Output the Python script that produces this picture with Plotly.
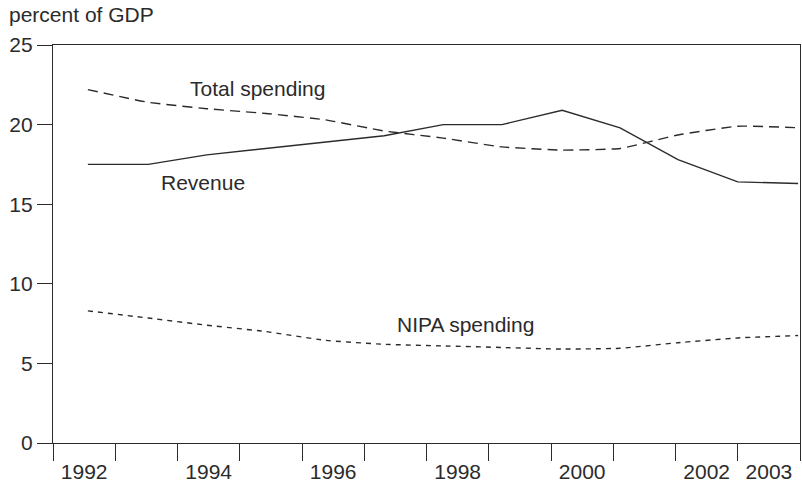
import plotly.graph_objects as go

# Data positions (fractional years, as plotted) and values, percent of GDP
x_pos = [1992.56, 1993.53, 1994.47, 1995.42, 1996.37, 1997.32, 1998.27,
         1999.21, 2000.18, 2001.11, 2002.04, 2003.00, 2003.97]
revenue = [17.5, 17.5, 18.1, 18.5, 18.9, 19.3, 20.0, 20.0, 20.9, 19.8, 17.8, 16.4, 16.3]
total_spending = [22.2, 21.4, 21.0, 20.7, 20.3, 19.6, 19.15, 18.6, 18.4, 18.5, 19.35, 19.9, 19.8]
nipa_spending = [8.3, 7.85, 7.4, 7.0, 6.45, 6.2, 6.1, 6.0, 5.9, 5.95, 6.3, 6.6, 6.75]

year_label_pos = [1992.5, 1994.5, 1996.5, 1998.5, 2000.5, 2002.5, 2003.5]
year_labels = ["1992", "1994", "1996", "1998", "2000", "2002", "2003"]
y_ticks = [0, 5, 10, 15, 20, 25]

FONT = "Liberation Sans, Arial, sans-serif"
INK = "#2b2b2b"

fig = go.Figure()
fig.add_trace(go.Scatter(x=x_pos, y=revenue, mode="lines", name="Revenue",
                         line=dict(color=INK, width=1.4)))
fig.add_trace(go.Scatter(x=x_pos, y=total_spending, mode="lines", name="Total spending",
                         line=dict(color=INK, width=1.4, dash="10px,6px", shape="spline", smoothing=0.4)))
fig.add_trace(go.Scatter(x=x_pos, y=nipa_spending, mode="lines", name="NIPA spending",
                         line=dict(color=INK, width=1.4, dash="5px,5px", shape="spline", smoothing=0.4)))

fig.add_annotation(x=1995.29, y=22.24, text="Total spending", showarrow=False,
                   font=dict(family=FONT, size=21, color=INK))
fig.add_annotation(x=1994.41, y=16.34, text="Revenue", showarrow=False,
                   font=dict(family=FONT, size=21, color=INK))
fig.add_annotation(x=1998.62, y=7.43, text="NIPA spending", showarrow=False,
                   font=dict(family=FONT, size=21, color=INK))
fig.add_annotation(xref="paper", yref="paper", x=0, y=1, xshift=-46, yshift=31,
                   xanchor="left", yanchor="middle", text="percent of GDP", showarrow=False,
                   font=dict(family=FONT, size=21, color=INK))

fig.update_layout(
    width=802, height=486,
    margin=dict(l=53, r=2, t=45, b=43, autoexpand=False),
    plot_bgcolor="white", paper_bgcolor="white",
    showlegend=False,
    font=dict(family=FONT, size=21, color=INK),
    xaxis=dict(
        range=[1992, 2004], showgrid=False, zeroline=False, automargin=False,
        showline=True, linecolor=INK, linewidth=1.3, mirror=True,
        tickmode="array", tickvals=year_label_pos, ticktext=year_labels,
        ticks="outside", ticklen=10, tickcolor="rgba(0,0,0,0)",
        minor=dict(tickmode="linear", tick0=1992, dtick=1, ticks="outside",
                   ticklen=17, tickcolor=INK, tickwidth=1.3, showgrid=False),
        tickfont=dict(family=FONT, size=21, color=INK),
    ),
    yaxis=dict(
        range=[0, 25], showgrid=False, zeroline=False, automargin=False,
        showline=True, linecolor=INK, linewidth=1.3, mirror=True,
        tickmode="array", tickvals=y_ticks,
        ticks="outside", ticklen=15, tickcolor=INK, tickwidth=1.3,
        tickfont=dict(family=FONT, size=21, color=INK),
    ),
)

fig.write_html("out.html", config={"displayModeBar": False},
               post_script="document.body.style.margin='0';document.body.style.overflow='hidden';")
